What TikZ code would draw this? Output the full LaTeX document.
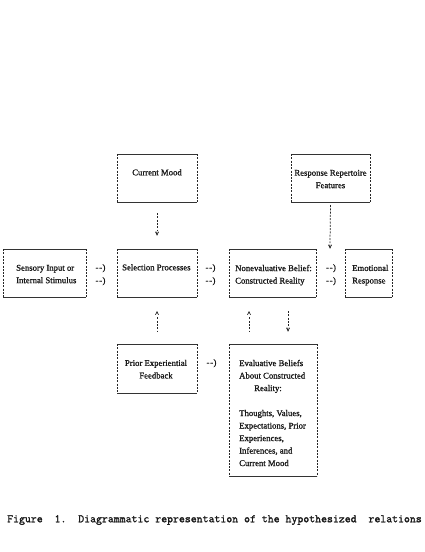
\documentclass[tikz,border=0pt]{standalone}
\usepackage{fontspec}
\setmainfont{Liberation Serif}
\newfontfamily\boxfont{Liberation Serif}[FakeBold=1.2]
\newfontfamily\capfont{Latin Modern Mono}[FakeBold=1.6]
\tikzset{
  tline/.style={line width=0.6pt, draw=black!80},
  sline/.style={line width=0.8pt, draw=black!85, dash pattern=on 2pt off 1.3pt},
  boxarea/.style={rectangle, inner sep=0pt, outer sep=0pt, draw=none},
  btext/.style={font=\boxfont\fontsize{8.7}{12.5}\selectfont, inner sep=0pt, text=black!90},
  conn/.style={line width=0.75pt, draw=black!85, dash pattern=on 2pt off 1.3pt},
  tip/.style={btext, font=\boxfont\fontsize{7.5}{9}\selectfont},
  captext/.style={font=\capfont\fontsize{11.5}{13}\selectfont, inner sep=0pt, text=black!90}
}
\newcommand\tybox[5]{%
  \node[boxarea, minimum width={(#4-#2)*1pt}, minimum height={(#5-#3)*1pt}] (#1) at ({(#2+#4)/2},{(#3+#5)/2}) {};
  \draw[tline] (#1.north west) -- (#1.north east);
  \draw[tline] (#1.south west) -- (#1.south east);
  \draw[sline] (#1.north west) -- (#1.south west);
  \draw[sline] (#1.north east) -- (#1.south east);}
\newcommand\tarrow{-\kern0.7pt-\kern0.4pt)}
\begin{document}
\begin{tikzpicture}[x=1pt,y=-1pt]
\useasboundingbox[fill=white] (0,0) rectangle (424,552);
% boxes
\tybox{cm}{117}{154}{197}{202}
\tybox{rr}{291}{154}{370}{202}
\tybox{si}{3}{249}{86}{297}
\tybox{sp}{117}{249}{197}{297}
\tybox{nb}{229}{249}{316}{297}
\tybox{er}{345}{249}{392}{297}
\tybox{pf}{117}{344}{197}{393}
\tybox{eb}{229}{344}{317}{476}
% texts
\node[btext, anchor=mid] (cmt) at (157,173) {Current Mood};
\node[btext, anchor=north, align=center] (rrt) at (330.5,169.7) {Response Repertoire\\Features};
\node[btext, anchor=north west, align=left] (sit) at (16,264.7) {Sensory Input or\\Internal Stimulus};
\node[btext, anchor=mid west] (spt) at (122,268) {Selection Processes};
\node[btext, anchor=north west, align=left] (nbt) at (235,264.7) {Nonevaluative Belief:\\Constructed Reality};
\node[btext, anchor=north west, align=left] (ert) at (352,264.7) {Emotional\\Response};
\node[btext, anchor=north, align=center] (pft) at (156,359.7) {Prior Experiential\\Feedback};
\node[btext, anchor=north west, align=left] (ebt) at (239,359.7) {Evaluative Beliefs\\About Constructed\\\hspace*{15pt}Reality:\\[12.5pt]Thoughts, Values,\\Expectations, Prior\\Experiences,\\Inferences, and\\Current Mood};
% horizontal text arrows
\node[btext, anchor=mid] (a1) at (100.5,268) {\tarrow};
\node[btext, anchor=mid] (a2) at (100.5,281) {\tarrow};
\node[btext, anchor=mid] (a3) at (210.5,268) {\tarrow};
\node[btext, anchor=mid] (a4) at (210.5,281) {\tarrow};
\node[btext, anchor=mid] (a5) at (331,268) {\tarrow};
\node[btext, anchor=mid] (a6) at (331,281) {\tarrow};
\node[btext, anchor=mid] (a7) at (211.5,363) {\tarrow};
% vertical connectors
\node[tip, anchor=mid] (v1) at (157,233) {v};
\draw[conn] ([yshift=-11pt]cm.south) -- ([yshift=1.5pt]v1.north);
\node[tip, anchor=mid] (v2) at (330,246) {v};
\draw[conn] ([yshift=-3pt]rr.south) -- ([yshift=1.5pt]v2.north);
\node[tip, anchor=mid] (u1) at (157,314) {\textasciicircum};
\draw[conn] ([yshift=-1pt]u1.south) -- ([yshift=12pt]pf.north);
\node[tip, anchor=mid] (u2) at (249,314) {\textasciicircum};
\draw[conn] ([yshift=-1pt]u2.south) -- ([yshift=12pt]eb.north-|u2);
\node[tip, anchor=mid] (v3) at (288,329) {v};
\draw[conn] (nb.south-|v3) ++(0,14) -- ([yshift=1.5pt]v3.north);
% caption
\node[captext, anchor=mid west] (cap) at (7,520) {Figure\ \ 1.\ \ Diagrammatic representation of the hypothesized\ \ relations};
\end{tikzpicture}
\end{document}
